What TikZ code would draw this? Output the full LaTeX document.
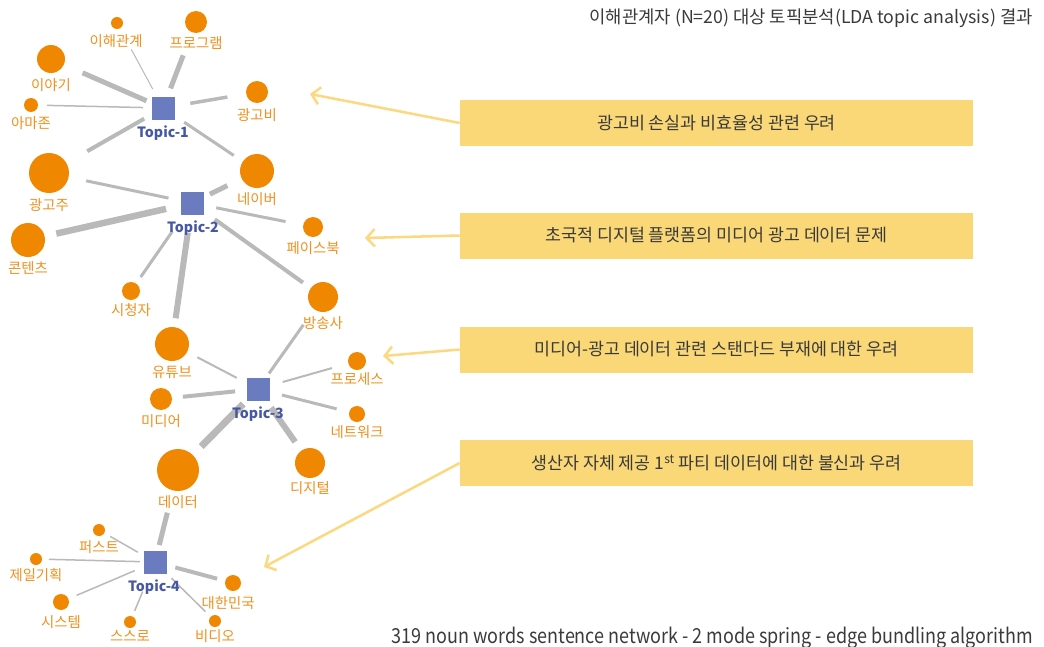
\documentclass[tikz,border=0pt]{standalone}
\usepackage{fontspec}
\setmainfont{Noto Sans CJK KR}
\usetikzlibrary{arrows.meta}
\definecolor{nodeor}{HTML}{F08700}
\definecolor{labor}{HTML}{F0901E}
\definecolor{topicc}{HTML}{6B7BBF}
\definecolor{topict}{HTML}{4658A3}
\definecolor{edgec}{HTML}{B9B9B9}
\definecolor{boxc}{HTML}{FAD877}
\definecolor{arrc}{HTML}{FCD981}
\definecolor{txtc}{HTML}{3A3A3A}
\begin{document}
\begin{tikzpicture}[x=0.75pt,y=-0.75pt,
  topic/.style={fill=topicc, minimum size=17.25pt, inner sep=0},
  tlabel/.style={text=topict, font=\fontsize{10.6}{12}\selectfont\bfseries, inner sep=0},
  word/.style={circle, fill=nodeor, inner sep=0, minimum size=#1*1.5pt},
  wlabel/.style={text=labor, font=\fontsize{10.8}{12}\selectfont, inner sep=0},
  e/.style n args={3}{draw=edgec, line width=#1*0.75pt, shorten <=#2*0.75pt, shorten >=#3*0.75pt},
  notebox/.style={fill=boxc, minimum width=384.75pt, minimum height=34.5pt, inner sep=0, text=txtc, font=\fontsize{13}{15}\selectfont},
  callout/.style={draw=arrc, line width=1.9pt, -{Straight Barb[length=6pt,width=13pt,line width=1.9pt]}},
]
\useasboundingbox (0,0) rectangle (1044,646);

% topic squares
\node[topic] (t1) at (163,108) {};
\node[topic] (t2) at (192,203) {};
\node[topic] (t3) at (258,389) {};
\node[topic] (t4) at (155,562) {};

% word circles
\node[word=6]  (ihae) at (117,23) {};
\node[word=11] (prog) at (196,22) {};
\node[word=14] (iyagi) at (51,59) {};
\node[word=7]  (amazon) at (31,105) {};
\node[word=11] (adcost) at (257,92) {};
\node[word=20] (advert) at (49,173) {};
\node[word=17] (naver) at (257,171) {};
\node[word=17] (content) at (28,240) {};
\node[word=10] (facebook) at (313,227) {};
\node[word=9]  (viewer) at (131,291) {};
\node[word=15] (broad) at (323,297) {};
\node[word=17] (youtube) at (172,344) {};
\node[word=11] (media) at (161,399) {};
\node[word=9]  (process) at (357,361) {};
\node[word=8]  (network) at (357,414) {};
\node[word=21] (data) at (178,470) {};
\node[word=15] (digital) at (310,463) {};
\node[word=6]  (first) at (99,530) {};
\node[word=6]  (cheil) at (36,559) {};
\node[word=8]  (system) at (61,602) {};
\node[word=6]  (self) at (130,622) {};
\node[word=6]  (video) at (215,621) {};
\node[word=8]  (korea) at (233,583) {};

% edges: {width px}{gap at topic}{gap at word}
\draw[e={5}{18}{34.5}] (t1.center) -- (iyagi.center);
\draw[e={1}{21.5}{30}] (t1.center) -- (ihae.center);
\draw[e={5}{21}{35.7}] (t1.center) -- (prog.center);
\draw[e={1.5}{20}{16}] (t1.center) -- (amazon.center);
\draw[e={3.5}{27.7}{30}] (t1.center) -- (adcost.center);
\draw[e={4}{21.6}{44}] (t1.center) -- (advert.center);
\draw[e={3}{25.5}{28}] (t1.center) -- (naver.center);

\draw[e={3}{24}{38}] (t2.center) -- (advert.center);
\draw[e={5}{20}{33}] (t2.center) -- (naver.center);
\draw[e={6.5}{26.6}{29}] (t2.center) -- (content.center);
\draw[e={3}{24.7}{28}] (t2.center) -- (facebook.center);
\draw[e={3}{34.7}{17}] (t2.center) -- (viewer.center);
\draw[e={6}{30}{26}] (t2.center) -- (youtube.center);
\draw[e={4}{28}{24.7}] (t2.center) -- (broad.center);

\draw[e={3}{19}{34}] (t3.center) -- (broad.center);
\draw[e={2}{24}{28.6}] (t3.center) -- (youtube.center);
\draw[e={4}{23}{22}] (t3.center) -- (media.center);
\draw[e={7}{21}{33}] (t3.center) -- (data.center);
\draw[e={6}{22.8}{25.8}] (t3.center) -- (digital.center);
\draw[e={2}{25.7}{26}] (t3.center) -- (process.center);
\draw[e={3}{24.7}{21}] (t3.center) -- (network.center);

\draw[e={5}{17.5}{44}] (t4.center) -- (data.center);
\draw[e={1.5}{19.7}{13}] (t4.center) -- (first.center);
\draw[e={1.5}{15}{13}] (t4.center) -- (cheil.center);
\draw[e={1.5}{22}{17}] (t4.center) -- (system.center);
\draw[e={1.5}{32}{12}] (t4.center) -- (self.center);
\draw[e={1.5}{23}{13.4}] (t4.center) -- (video.center);
\draw[e={4}{21}{16.5}] (t4.center) -- (korea.center);

% topic labels
\node[tlabel] (t1l) at (163,133) {Topic-1};
\node[tlabel] (t2l) at (193,228) {Topic-2};
\node[tlabel] (t3l) at (258,414) {Topic-3};
\node[tlabel] (t4l) at (154,587) {Topic-4};

% word labels
\node[wlabel] (ihael) at (116,41) {이해관계};
\node[wlabel] (progl) at (196,43) {프로그램};
\node[wlabel] (iyagil) at (51,85) {이야기};
\node[wlabel] (amazonl) at (31,123) {아마존};
\node[wlabel] (adcostl) at (257,115) {광고비};
\node[wlabel] (advertl) at (49,205) {광고주};
\node[wlabel] (naverl) at (257,199) {네이버};
\node[wlabel] (contentl) at (28,268) {콘텐츠};
\node[wlabel] (facebookl) at (313,248) {페이스북};
\node[wlabel] (viewerl) at (131,310) {시청자};
\node[wlabel] (broadl) at (323,323) {방송사};
\node[wlabel] (youtubel) at (172,372) {유튜브};
\node[wlabel] (processl) at (357,379) {프로세스};
\node[wlabel] (medial) at (161,421) {미디어};
\node[wlabel] (networkl) at (357,432) {네트워크};
\node[wlabel] (digitall) at (310,488) {디지털};
\node[wlabel] (datal) at (178,502) {데이터};
\node[wlabel] (firstl) at (99,547) {퍼스트};
\node[wlabel] (cheill) at (36,575) {제일기획};
\node[wlabel] (koreal) at (228,603) {대한민국};
\node[wlabel] (systeml) at (61,622) {시스템};
\node[wlabel] (selfl) at (130,636) {스스로};
\node[wlabel] (videol) at (215,636) {비디오};

% note boxes
\node[notebox] (b1) at (716.5,123) {광고비 손실과 비효율성 관련 우려};
\node[notebox] (b2) at (716.5,235.5) {초국적 디지털 플랫폼의 미디어 광고 데이터 문제};
\node[notebox] (b3) at (716.5,349.5) {미디어-광고 데이터 관련 스탠다드 부재에 대한 우려};
\node[notebox] (b4) at (716.5,463) {생산자 자체 제공 1\textsuperscript{st} 파티 데이터에 대한 불신과 우려};

\coordinate (a1) at (310,94);
\coordinate (a2) at (365,238);
\coordinate (a3) at (383,356);
\coordinate (a4) at (264,567);
\draw[callout] (b1.west) -- (a1);
\draw[callout] (b2.west) -- (a2);
\draw[callout] (b3.west) -- (a3);
\draw[callout] (b4.west) -- (a4);

% title and footer
\node[anchor=east, inner sep=0, text=txtc, font=\fontsize{13.3}{15}\selectfont] (title) at (1033,18) {이해관계자 (N=20) 대상 토픽분석(LDA topic analysis) 결과};
\node[anchor=base east, inner sep=0, text=txtc, font=\fontsize{15.5}{17}\selectfont] (footer) at (1033,643) {\scalebox{0.87}[1]{319 noun words sentence network - 2 mode spring - edge bundling algorithm}};
\end{tikzpicture}
\end{document}
